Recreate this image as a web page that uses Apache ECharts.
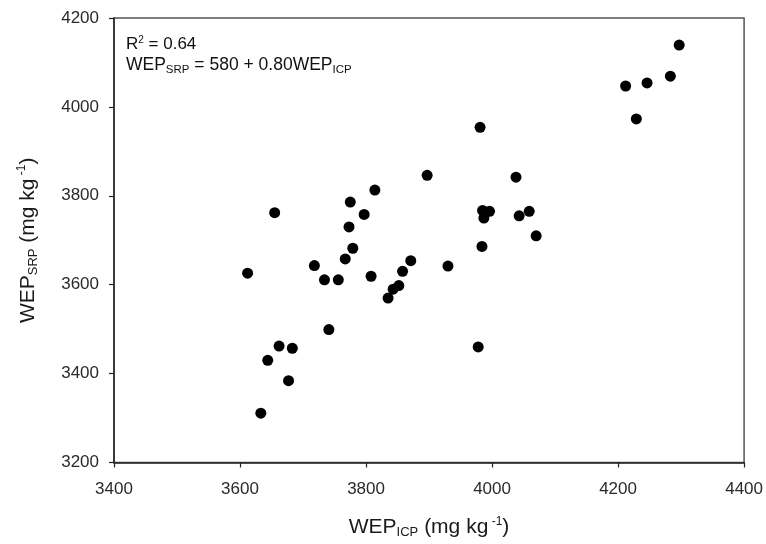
<!DOCTYPE html>
<html>
<head>
<meta charset="utf-8">
<script src="https://cdn.jsdelivr.net/npm/echarts@6/dist/echarts.min.js"></script>
<style>html,body{margin:0;padding:0;background:#fff;}#c{width:766px;height:544px;}</style>
</head>
<body>
<div id="c"></div>
<script>
// WEP_ICP (x) values, mg kg-1
const wepICP = [4297, 4283, 4246, 4212, 4229,
  3814, 3775, 3655, 3797, 3773, 3779, 3767, 3718, 3612, 3734, 3756, 3808,
  3741, 3662, 3683, 3644, 3677, 3633,
  3981, 3897, 4038, 3985, 3996, 3987, 3984, 4043, 4059, 4070,
  3871, 3930, 3858, 3852, 3843, 3835, 3978];
// WEP_SRP (y) values, mg kg-1
const wepSRP = [4139, 4069, 4054, 4047, 3973,
  3813, 3786, 3762, 3758, 3730, 3682, 3658, 3643, 3626, 3611, 3611, 3619,
  3499, 3462, 3457, 3430, 3384, 3311,
  3954, 3846, 3842, 3767, 3765, 3750, 3686, 3755, 3765, 3710,
  3654, 3642, 3630, 3598, 3590, 3570, 3460];
const xTicks = [3400, 3600, 3800, 4000, 4200, 4400];
const yTicks = [3200, 3400, 3600, 3800, 4000, 4200];
const annotR2 = 'R';
const annotR2Sup = '2';
const annotR2Val = ' = 0.64';
const annotEq = ['WEP', 'SRP', ' = 580 + 0.80WEP', 'ICP'];

const points = wepICP.map((x, i) => [x, wepSRP[i]]);
const FF = '"Liberation Sans", Arial, Helvetica, sans-serif';
const richName = {
  n: {fontSize: 21, fontFamily: FF, color: '#1a1a1a'},
  s: {fontSize: 13, fontFamily: FF, color: '#1a1a1a', padding: [10, 0, 0, 0]},
  p: {fontSize: 12, fontFamily: FF, color: '#1a1a1a', padding: [0, 0, 12, 0]}
};
const chart = echarts.init(document.getElementById('c'), null, {renderer: 'canvas'});
chart.setOption({
  backgroundColor: '#fff',
  animation: false,
  grid: {left: 114, right: 17, top: 18, bottom: 81, show: true, borderColor: '#555', borderWidth: 1.5, backgroundColor: 'transparent'},
  xAxis: {
    type: 'value', min: xTicks[0], max: xTicks[xTicks.length - 1], interval: 200,
    axisLine: {show: true, lineStyle: {color: '#222', width: 1.5}},
    axisTick: {show: true, inside: false, length: 5, lineStyle: {color: '#222', width: 1.2}},
    axisLabel: {fontSize: 17, fontFamily: FF, color: '#2a2a2a', margin: 18, formatter: v => String(v)},
    splitLine: {show: false},
    name: '{n|WEP}{s|ICP}{n| (mg kg}{p| -1}{n|)}',
    nameLocation: 'middle', nameGap: 53,
    nameTextStyle: {rich: richName}
  },
  yAxis: {
    type: 'value', min: yTicks[0], max: yTicks[yTicks.length - 1], interval: 200,
    axisLine: {show: true, lineStyle: {color: '#222', width: 1.5}},
    axisTick: {show: true, inside: false, length: 5, lineStyle: {color: '#222', width: 1.2}},
    axisLabel: {fontSize: 17, fontFamily: FF, color: '#2a2a2a', margin: 15, formatter: v => String(v)},
    splitLine: {show: false},
    name: '{n|WEP}{s|SRP}{n| (mg kg}{p| -1}{n|)}',
    nameLocation: 'middle', nameGap: 74, nameRotate: 90,
    nameTextStyle: {rich: richName}
  },
  graphic: [
    {type: 'text', left: 126, top: 35, z: 10, style: {
      text: '{n|' + annotR2 + '}{p|' + annotR2Sup + '}{n|' + annotR2Val + '}',
      rich: {
        n: {fontSize: 17, fontFamily: FF, fill: '#111'},
        p: {fontSize: 10, fontFamily: FF, fill: '#111', padding: [0, 0, 9, 0]}
      }
    }},
    {type: 'text', left: 126, top: 56, z: 10, style: {
      text: '{n|' + annotEq[0] + '}{s|' + annotEq[1] + '}{n|' + annotEq[2] + '}{s|' + annotEq[3] + '}',
      rich: {
        n: {fontSize: 17.5, fontFamily: FF, fill: '#111'},
        s: {fontSize: 11.5, fontFamily: FF, fill: '#111', padding: [9, 0, 0, 0]}
      }
    }}
  ],
  series: [{
    type: 'scatter',
    data: points,
    symbol: 'circle',
    symbolSize: 11,
    itemStyle: {color: '#000', opacity: 1}
  }]
});
</script>
</body>
</html>
